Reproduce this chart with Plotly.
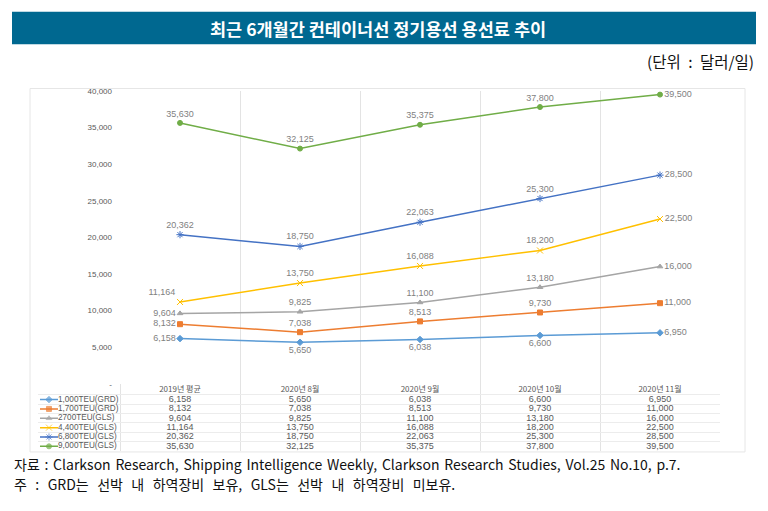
import plotly.graph_objects as go

# ---------------- data ----------------
categories = ["2019년 평균", "2020년 8월", "2020년 9월", "2020년 10월", "2020년 11월"]
series_names = ["1,000TEU(GRD)", "1,700TEU(GRD)", "2700TEU(GLS)", "4,400TEU(GLS)", "6,800TEU(GLS)", "9,000TEU(GLS)"]
teu1000_grd = [6158, 5650, 6038, 6600, 6950]
teu1700_grd = [8132, 7038, 8513, 9730, 11000]
teu2700_gls = [9604, 9825, 11100, 13180, 16000]
teu4400_gls = [11164, 13750, 16088, 18200, 22500]
teu6800_gls = [20362, 18750, 22063, 25300, 28500]
teu9000_gls = [35630, 32125, 35375, 37800, 39500]
y_ticks = [0, 5000, 10000, 15000, 20000, 25000, 30000, 35000, 40000]

all_series = [teu1000_grd, teu1700_grd, teu2700_gls, teu4400_gls, teu6800_gls, teu9000_gls]

# ---------------- styles ----------------
colors = ["#5B9BD5", "#ED7D31", "#A5A5A5", "#FFC000", "#4472C4", "#70AD47"]
symbols = ["diamond", "square", "triangle-up", "x-thin-open", "asterisk-open", "circle"]
msizes = [5, 5, 5, 6, 6, 5]
label_pos = [
    ["middle left", "bottom center", "bottom center", "bottom center", "middle right"],
    ["middle left", "top center", "top center", "top center", "middle right"],
    ["middle left", "top center", "top center", "top center", "middle right"],
    ["top left", "top center", "top center", "top center", "middle right"],
    ["top center", "top center", "top center", "top center", "middle right"],
    ["top center", "top center", "top center", "top center", "middle right"],
]

W, H = 768, 511
def px(x):
    return x / W
def py(y):
    return 1 - y / H

NUM_FONT = "Liberation Sans, Arial, sans-serif"
KR_FONT = "Noto Sans CJK KR, sans-serif"
LABEL_GRAY = "#7f7f7f"

fig = go.Figure()
xs = list(range(len(categories)))

for i, vals in enumerate(all_series):
    fig.add_trace(go.Scatter(
        x=xs, y=vals, mode="lines+markers+text",
        line=dict(color=colors[i], width=1.5),
        marker=dict(symbol=symbols[i], size=msizes[i], color=colors[i],
                    line=dict(color=colors[i], width=1)),
        text=[f"{v:,}" for v in vals], textposition=label_pos[i],
        textfont=dict(family=NUM_FONT, size=9, color=LABEL_GRAY),
        cliponaxis=False, showlegend=False, hoverinfo="skip",
        xaxis="x", yaxis="y",
    ))

# ---- data table ----
fig.add_trace(go.Scatter(
    x=xs, y=[0] * len(categories), mode="text", text=categories,
    textfont=dict(family=KR_FONT, size=8, color="#595959"),
    showlegend=False, hoverinfo="skip", xaxis="x2", yaxis="y2", cliponaxis=False,
))
for i, vals in enumerate(all_series):
    fig.add_trace(go.Scatter(
        x=xs, y=[i + 1] * len(vals), mode="text",
        text=[f"{v:,}" for v in vals],
        textfont=dict(family=NUM_FONT, size=9, color="#595959"),
        showlegend=False, hoverinfo="skip", xaxis="x2", yaxis="y2", cliponaxis=False,
    ))
    # legend key in the table
    fig.add_trace(go.Scatter(
        x=[-1.1667, -1.0917, -1.0167], y=[i + 1] * 3, mode="lines+markers+text",
        line=dict(color=colors[i], width=1.5),
        marker=dict(symbol=symbols[i], size=[0, msizes[i], 0], color=colors[i],
                    line=dict(color=colors[i], width=1)),
        text=["", "", series_names[i]], textposition="middle right",
        textfont=dict(family=NUM_FONT, size=8.2, color="#595959"),
        showlegend=False, hoverinfo="skip", xaxis="x2", yaxis="y2", cliponaxis=False,
    ))

grid_x = [k - 0.5 for k in range(len(categories) + 1)]

fig.update_layout(
    width=W, height=H,
    margin=dict(l=0, r=0, t=0, b=0),
    paper_bgcolor="white", plot_bgcolor="rgba(0,0,0,0)",
    showlegend=False,
    xaxis=dict(domain=[px(120), px(720)], range=[-0.5, 4.5],
               tickvals=grid_x, showticklabels=False, ticks="",
               showgrid=True, gridcolor="#e3e3e3", gridwidth=1,
               zeroline=False, showline=False, fixedrange=True),
    yaxis=dict(domain=[py(386.5), py(88.5)], range=[0, 40000],
               tickvals=y_ticks,
               ticktext=[("-" if v == 0 else f"{v:,}") for v in y_ticks],
               tickfont=dict(family=NUM_FONT, size=8, color="#595959"),
               ticks="", ticklabelstandoff=7,
               showgrid=False, zeroline=False, showline=False),
    xaxis2=dict(domain=[px(38), px(720)], range=[-1.1833, 4.5], anchor="y2",
                tickvals=grid_x, showticklabels=False, ticks="",
                showgrid=True, gridcolor="#e3e3e3", zeroline=False, showline=False),
    yaxis2=dict(domain=[py(455.5), py(386.5)], range=[6.55, -0.7], anchor="x2",
                tickvals=[-0.7, 0.5, 1.5, 2.5, 3.5, 4.5, 5.5, 6.55],
                showticklabels=False, ticks="",
                showgrid=True, gridcolor="#ececec", zeroline=False, showline=False),
    shapes=[
        # title banner
        dict(type="rect", xref="paper", yref="paper",
             x0=px(12), x1=px(756), y0=py(41), y1=py(8),
             fillcolor="#006890", line=dict(width=0), layer="below"),
        # chart frame
        dict(type="rect", xref="paper", yref="paper",
             x0=px(30), x1=px(745), y0=py(456), y1=py(86),
             line=dict(color="#e6e6e6", width=1), layer="below"),
    ],
    annotations=[
        dict(text="최근 6개월간 컨테이너선 정기용선 용선료 추이",
             xref="paper", yref="paper", x=px(378), y=py(24.5),
             xanchor="center", yanchor="middle", showarrow=False,
             font=dict(family=KR_FONT, size=17.5, color="white", weight="bold")),
        dict(text='<span style="word-spacing:4px">(단위 : 달러/일)</span>', xref="paper", yref="paper",
             x=px(756), y=py(58), xanchor="right", yanchor="middle", showarrow=False,
             font=dict(family=KR_FONT, size=15.5, color="#111111")),
        dict(text='<span style="word-spacing:1.6px">자료 : Clarkson Research, Shipping Intelligence Weekly, Clarkson Research Studies, Vol.25 No.10, p.7.</span>',
             xref="paper", yref="paper", x=px(12), y=py(468), xanchor="left", yanchor="middle",
             showarrow=False, font=dict(family=KR_FONT, size=14, color="#111111")),
        dict(text='<span style="word-spacing:5.3px">주 : GRD는 선박 내 하역장비 보유, GLS는 선박 내 하역장비 미보유.</span>',
             xref="paper", yref="paper", x=px(12), y=py(489), xanchor="left", yanchor="middle",
             showarrow=False, font=dict(family=KR_FONT, size=14, color="#111111")),
    ],
)

fig.write_html(
    "out.html",
    config={"displayModeBar": False},
    post_script="document.body.style.margin='0';document.body.style.overflow='hidden';",
)
